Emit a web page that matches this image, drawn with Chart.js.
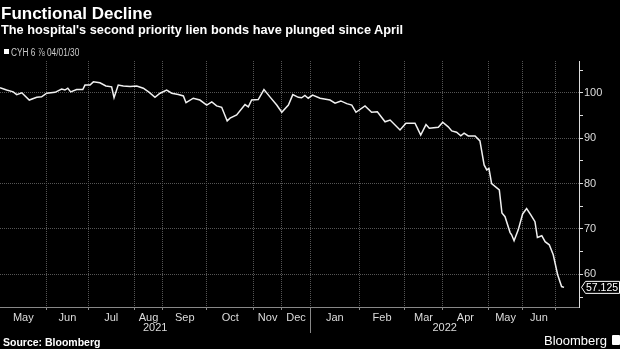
<!DOCTYPE html>
<html><head><meta charset="utf-8">
<script src="https://cdn.jsdelivr.net/npm/chart.js@4.4.1/dist/chart.umd.min.js"></script>
<style>
html,body{margin:0;padding:0;background:#000;}
#wrap{position:relative;width:620px;height:349px;overflow:hidden;background:#000;font-family:"Liberation Sans",Arial,sans-serif;}
canvas{position:absolute;left:0;top:0;}
.t{position:absolute;white-space:nowrap;color:#fff;line-height:1;}
#title{left:1px;top:5px;font-size:17px;font-weight:bold;}
#sub{left:1px;top:24px;font-size:12.75px;font-weight:bold;}
#leg{left:11px;top:47.5px;font-size:10px;color:#ccc;transform:scaleX(0.83);transform-origin:0 0;}
#sq{position:absolute;left:4px;top:49px;width:5px;height:5px;background:#fff;}
#src{left:3px;top:337px;font-size:10.5px;font-weight:bold;}
#bb{left:544px;top:334px;font-size:13px;}
#icon{position:absolute;left:612px;top:335px;width:8px;height:10px;background:#fff;border-radius:1px;}
</style></head>
<body>
<div id="wrap">
<canvas id="c" width="620" height="349"></canvas>
<div class="t" id="title">Functional Decline</div>
<div class="t" id="sub">The hospital's second priority lien bonds have plunged since April</div>
<div id="sq"></div>
<div class="t" id="leg">CYH 6 ⅞ 04/01/30</div>
<div class="t" id="src">Source: Bloomberg</div>
<div class="t" id="bb">Bloomberg</div>
<div id="icon"></div>
</div>
<script>
// ---- data ----
const monthLabels = ["May","Jun","Jul","Aug","Sep","Oct","Nov","Dec","Jan","Feb","Mar","Apr","May","Jun"];
const monthStarts = [0,21.2,40.1,61.0,73.9,94.0,115.2,127.9,141.0,163.2,183.9,200.8,222.0,237.3,252.3];
const yearLabels = ["2021","2022"];
const yearStarts = [0,141.0,263];
const xMax = 263;
const yTicks = [60,70,80,90,100];
const yMinorTicks = [55,65,75,85,95,105];
const lastValue = 57.125;

const dayIndex = [0,3.0,6.0,7.6,9.9,13.3,16.7,18.9,21.2,25.0,28.0,29.5,30.8,32.1,34.8,37.6,38.6,40.9,42.4,45.4,
 48.1,50.7,51.8,53.7,56.0,59.1,62.1,65.1,67.8,70.4,72.7,75.7,78.0,81.0,83.3,84.5,87.8,90.8,93.9,96.2,
 98.4,100.7,103.2,104.5,107.5,111.3,112.8,114.3,117.3,119.9,122.6,125.7,128.0,131.0,133.0,135.5,137.0,138.5,140.0,142.0,
 145.4,149.9,152.2,154.8,157.5,159.8,161.7,165.8,168.8,171.4,174.9,177.2,181.7,184.4,188.5,189.6,191.1,193.5,195.0,199.1,
 201.1,203.6,205.2,207.4,209.3,210.8,212.7,215.8,218.0,219.9,221.1,222.1,223.3,226.8,228.0,229.4,231.7,232.4,233.5,235.4,
 237.4,239.2,241.1,243.0,244.1,246.1,247.6,249.5,251.3,253.3,255.1,256.2];
const prices = [101.1,100.6,100.2,99.6,100.0,98.4,99.0,99.1,99.9,100.1,100.8,100.6,101.0,100.2,100.7,100.7,101.7,101.7,102.4,102.2,
 101.5,101.3,98.9,101.7,101.5,101.4,101.5,101.0,100.1,99.0,99.9,100.6,99.9,99.6,99.3,97.8,98.8,98.4,97.3,98.0,
 97.1,96.8,93.8,94.4,95.1,97.4,96.9,98.4,98.5,100.7,99.1,97.3,95.7,97.3,99.6,99.0,98.9,99.4,98.8,99.5,
 98.8,98.4,97.7,98.2,97.6,97.3,95.7,97.1,95.7,95.8,93.6,94.0,91.8,93.3,93.3,92.2,90.7,93.0,92.2,92.4,
 93.5,92.5,91.6,91.3,90.5,91.1,90.5,90.5,89.4,84.1,83.0,83.3,80.0,78.6,73.5,72.7,69.2,68.7,67.4,69.8,
 73.3,74.5,73.1,71.6,68.1,68.5,67.2,66.5,64.3,59.9,57.3,57.125];

// ---- derived ----
const boundaries = monthStarts.slice(1);
const mids = monthLabels.map((_, i) => (monthStarts[i] + monthStarts[i + 1]) / 2);
const key = v => Number(v).toFixed(3);
const boundSet = new Set(boundaries.map(key));
const midMap = new Map(mids.map((v, i) => [key(v), monthLabels[i]]));
const points = dayIndex.map((x, i) => ({x, y: prices[i]}));

const FONT = "'Liberation Sans',sans-serif";

const extras = {
  id: 'extras',
  afterDraw(chart) {
    const {ctx, scales: {x, y}} = chart;
    ctx.save();
    // year labels + separator
    ctx.fillStyle = '#ddd';
    ctx.font = "11px " + FONT;
    ctx.textAlign = 'center';
    ctx.textBaseline = 'middle';
    yearLabels.forEach((lab, i) => {
      const cx = (x.getPixelForValue(yearStarts[i]) + x.getPixelForValue(yearStarts[i + 1])) / 2;
      ctx.fillText(lab, cx, 328);
    });
    ctx.strokeStyle = '#888';
    ctx.lineWidth = 1;
    for (let i = 1; i < yearStarts.length - 1; i++) {
      const px = Math.round(x.getPixelForValue(yearStarts[i])) + 0.5;
      ctx.beginPath(); ctx.moveTo(px, y.bottom); ctx.lineTo(px, y.bottom + 26); ctx.stroke();
    }
    // last value label
    const py = y.getPixelForValue(lastValue);
    const lx = x.right + 2.5;
    ctx.beginPath();
    ctx.moveTo(lx, py);
    ctx.lineTo(lx + 4, py - 6);
    ctx.lineTo(619.5, py - 6);
    ctx.lineTo(619.5, py + 6);
    ctx.lineTo(lx + 4, py + 6);
    ctx.closePath();
    ctx.fillStyle = '#000';
    ctx.fill();
    ctx.strokeStyle = '#fff';
    ctx.stroke();
    ctx.fillStyle = '#fff';
    ctx.textAlign = 'left';
    ctx.font = "10.5px " + FONT;
    ctx.fillText(String(lastValue), lx + 4.5, py + 0.5);
    ctx.restore();
  }
};

new Chart(document.getElementById('c'), {
  type: 'line',
  data: { datasets: [{ data: points, borderColor: '#f0f0f0', borderWidth: 1.5, pointRadius: 0, tension: 0, fill: false }] },
  options: {
    responsive: false, animation: false, devicePixelRatio: 1,
    layout: { padding: { top: 61, left: 0, right: 0, bottom: 0 } },
    plugins: { legend: { display: false }, tooltip: { enabled: false } },
    scales: {
      x: {
        type: 'linear', min: 0, max: xMax,
        afterBuildTicks: s => { s.ticks = boundaries.concat(mids).sort((a, b) => a - b).map(v => ({value: v})); },
        afterFit: s => { s.height = 42; },
        ticks: { autoSkip: false, maxRotation: 0, color: '#ddd', font: {size: 11, family: FONT}, padding: 1,
          callback: v => midMap.get(key(v)) || '' },
        grid: { color: c => (c.tick && boundSet.has(key(c.tick.value))) ? '#555' : 'rgba(0,0,0,0)',
          tickColor: c => (c.tick && boundSet.has(key(c.tick.value))) ? '#888' : 'rgba(0,0,0,0)', tickLength: 3 },
        border: { display: true, color: '#888', dash: [1, 1] }
      },
      y: {
        position: 'right', min: 52.8, max: 107,
        afterBuildTicks: s => { s.ticks = yTicks.concat(yMinorTicks).sort((a, b) => a - b).map(v => ({value: v})); },
        afterFit: s => { s.width = 41; },
        ticks: { color: '#ddd', font: {size: 11, family: FONT}, padding: 1,
          callback: v => yTicks.includes(v) ? String(v) : '' },
        grid: { color: c => (c.tick && yTicks.includes(c.tick.value)) ? '#555' : 'rgba(0,0,0,0)', tickColor: '#ddd', tickLength: 4 },
        border: { display: true, color: '#ddd', dash: [1, 1] }
      }
    }
  },
  plugins: [extras]
});
</script>
</body></html>
